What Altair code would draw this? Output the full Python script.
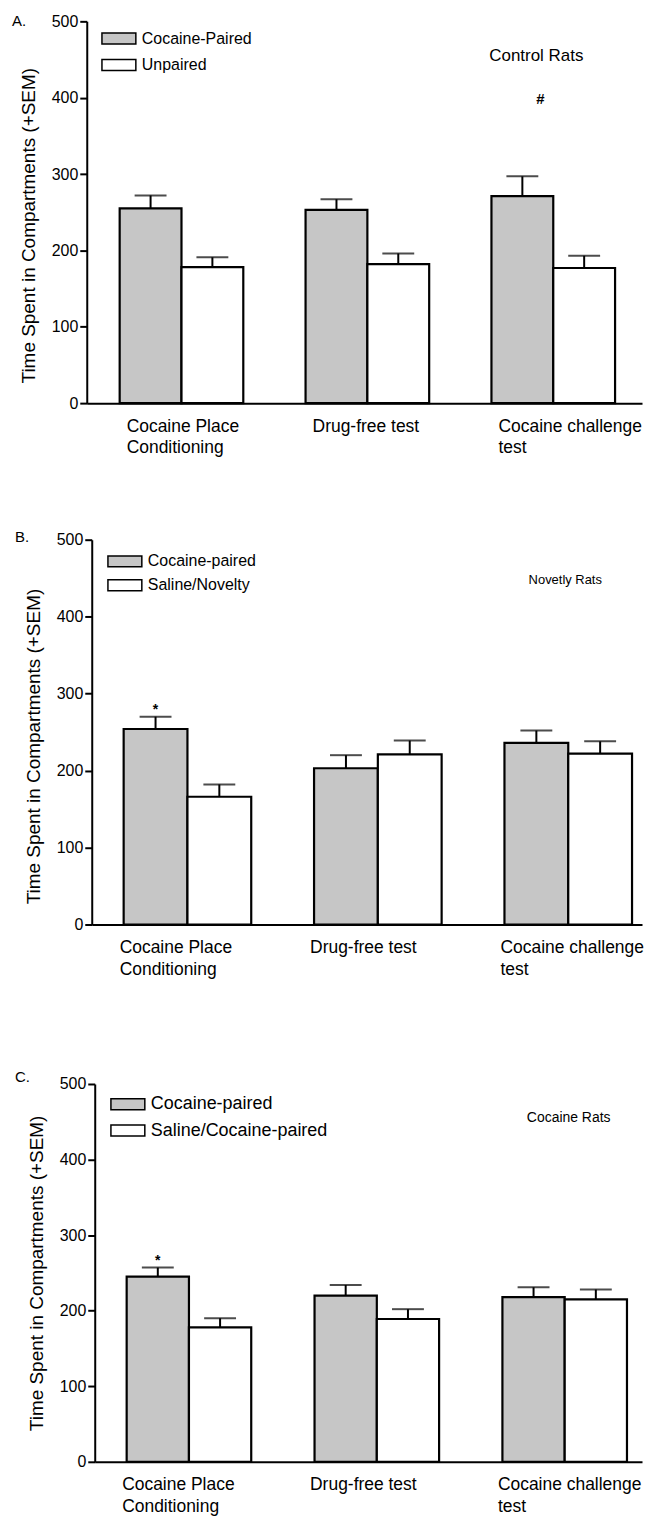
import altair as alt
import pandas as pd

FONT = "Liberation Sans"
GRAY = "#c6c6c6"

categories = ["Cocaine Place|Conditioning", "Drug-free test", "Cocaine challenge|test"]
y_title = "Time Spent in Compartments (+SEM)"

# Panel A: Control Rats
a_series = ["Cocaine-Paired", "Unpaired"]
a_mean_paired = [255, 253, 271]
a_top_paired = [272, 267, 297]
a_mean_other = [178, 182, 177]
a_top_other = [191, 196, 193]
a_note_text = ["Control Rats", "#"]
a_note_value = [455, 398]

# Panel B: Novelty Rats
b_series = ["Cocaine-paired", "Saline/Novelty"]
b_mean_paired = [254, 203, 236]
b_top_paired = [270, 220, 252]
b_mean_other = [166, 221, 222]
b_top_other = [182, 239, 238]
b_note_text = ["Novetly Rats", "*"]
b_note_value = [447, 279]

# Panel C: Cocaine Rats
c_series = ["Cocaine-paired", "Saline/Cocaine-paired"]
c_mean_paired = [245, 220, 218]
c_top_paired = [257, 234, 231]
c_mean_other = [178, 189, 215]
c_top_other = [190, 202, 228]
c_note_text = ["Cocaine Rats", "*"]
c_note_value = [455, 266]

SWATCH = "M-1.7,-0.55H1.7V0.55H-1.7Z"


def bars_df(series, mp, tp, mo, to):
    rows = []
    for i, c in enumerate(categories):
        rows.append({"cat": c, "series": series[0], "mean": mp[i], "top": tp[i]})
        rows.append({"cat": c, "series": series[1], "mean": mo[i], "top": to[i]})
    return pd.DataFrame(rows)


def panel(letter, series, mp, tp, mo, to, note_text, note_value, st):
    W = 557
    df = bars_df(series, mp, tp, mo, to)
    xs = alt.Scale(domain=categories, range=[st["yoff"], W], paddingInner=st["pi"],
                   paddingOuter=st["po"], align=st["align"])
    X = alt.X("cat:N", sort=categories, scale=xs,
              axis=alt.Axis(title=None, ticks=False, labelAngle=0, labelAlign="left",
                            labelBaseline="top", labelPadding=14, labelFontSize=17.5,
                            labelLineHeight=21.7, labelOffset=st["loff"], labelLimit=400,
                            labelOverlap=False, labelExpr="split(datum.label, '|')",
                            domainWidth=2, domainColor="black", labelColor="black",
                            labelFont=FONT))
    XO = alt.XOffset("series:N", sort=series, scale=alt.Scale(domain=series, paddingInner=0, paddingOuter=0))
    Y = alt.Y("mean:Q", scale=alt.Scale(domain=[0, 500], nice=False),
              axis=alt.Axis(title=y_title, values=[0, 100, 200, 300, 400, 500], grid=False,
                            offset=-st["yoff"],
                            tickSize=7, tickWidth=2, tickColor="black", domainWidth=2,
                            domainColor="black", labelFontSize=16, labelColor="black",
                            labelPadding=2, labelFont=FONT, titleFont=FONT,
                            titleFontSize=19, titleFontWeight="normal", titleColor="black",
                            titlePadding=13, titleY=st["h"] / 2 + st["ty"]))
    base = alt.Chart(df)
    bars = base.mark_bar(stroke="black", strokeWidth=2.2).encode(
        x=X, xOffset=XO, y=Y,
        fill=alt.Fill("series:N", sort=series,
                      scale=alt.Scale(domain=series, range=[GRAY, "white"]),
                      legend=alt.Legend(orient="none", legendX=st["lx"], legendY=st["ly"],
                                        title=None, symbolType=SWATCH,
                                        symbolSize=400, symbolStrokeColor="black",
                                        symbolStrokeWidth=1.5, labelFontSize=st["lfs"],
                                        labelFont=FONT, labelColor="black", labelOffset=12,
                                        rowPadding=st["rp"], padding=0, labelLimit=400)))
    stems = base.mark_rule(color="black", strokeWidth=2).encode(
        x="cat:N", xOffset=XO, y="mean:Q", y2="top:Q")
    caps = base.mark_tick(color="black", thickness=2, size=32).encode(
        x="cat:N", xOffset=XO, y="top:Q")

    group_df = pd.DataFrame({"cat": [categories[2]], "v": [note_value[0]], "t": [note_text[0]]})
    group_note = alt.Chart(group_df).mark_text(
        font=FONT, fontSize=st["gfs"], color="black", baseline="middle", dx=st["gdx"]
    ).encode(x="cat:N", y="v:Q", text="t:N")

    sym_df = pd.DataFrame({"cat": [categories[st["sym_cat"]]], "series": [series[0]],
                           "v": [note_value[1]], "t": [note_text[1]]})
    sym_enc = dict(x="cat:N", y="v:Q", text="t:N")
    if st["sym_off"]:
        sym_enc["xOffset"] = XO
    sym_note = alt.Chart(sym_df).mark_text(
        font=FONT, fontSize=st["sfs"], fontWeight="bold", color="black", baseline="middle",
        dx=st["sdx"]
    ).encode(**sym_enc)

    letter_df = pd.DataFrame({"t": [letter]})
    letter_mark = alt.Chart(letter_df).mark_text(
        font=FONT, fontSize=15, color="black", align="left", baseline="alphabetic"
    ).encode(text="t:N", x=alt.value(st["lex"]), y=alt.value(st["ley"]))

    return alt.layer(bars, stems, caps, group_note, sym_note, letter_mark).properties(
        width=W, height=st["h"])


stA = dict(h=383, yoff=0, pi=0.335, po=0.161, align=0.55, loff=-55, lx=21.25, ly=6.25,
           lfs=16, rp=6.5, ty=13, gfs=17, gdx=-17, sym_cat=2, sym_off=False, sfs=15,
           sdx=-13, lex=-75, ley=5)
stB = dict(h=386, yoff=5, pi=0.33, po=0.11, align=0.762, loff=-68, lx=27.25, ly=10.75,
           lfs=16, rp=4, ty=14, gfs=13, gdx=-3, sym_cat=0, sym_off=True, sfs=14, sdx=0,
           lex=-72, ley=2)
stC = dict(h=379, yoff=8, pi=0.337, po=0.125, align=0.68, loff=-67, lx=30.25, ly=9.25,
           lfs=18, rp=6.5, ty=0, gfs=14, gdx=4, sym_cat=0, sym_off=True, sfs=14, sdx=0,
           lex=-72, ley=-2)

pA = panel("A.", a_series, a_mean_paired, a_top_paired, a_mean_other, a_top_other,
           a_note_text, a_note_value, stA)
pB = panel("B.", b_series, b_mean_paired, b_top_paired, b_mean_other, b_top_other,
           b_note_text, b_note_value, stB)
pC = panel("C.", c_series, c_mean_paired, c_top_paired, c_mean_other, c_top_other,
           c_note_text, c_note_value, stC)

inner = alt.concat(pB, pC, columns=1, align="none", spacing=92).resolve_scale(
    x="independent", y="independent", fill="independent", xOffset="independent")
chart = alt.concat(pA, inner, columns=1, align="none", spacing=73).resolve_scale(
    x="independent", y="independent", fill="independent", xOffset="independent"
).properties(padding={"left": 4, "top": 3, "right": 0, "bottom": 0}).configure(
    font=FONT).configure_view(stroke=None)

chart.save("out.html", embed_options={"renderer": "svg", "actions": False})
